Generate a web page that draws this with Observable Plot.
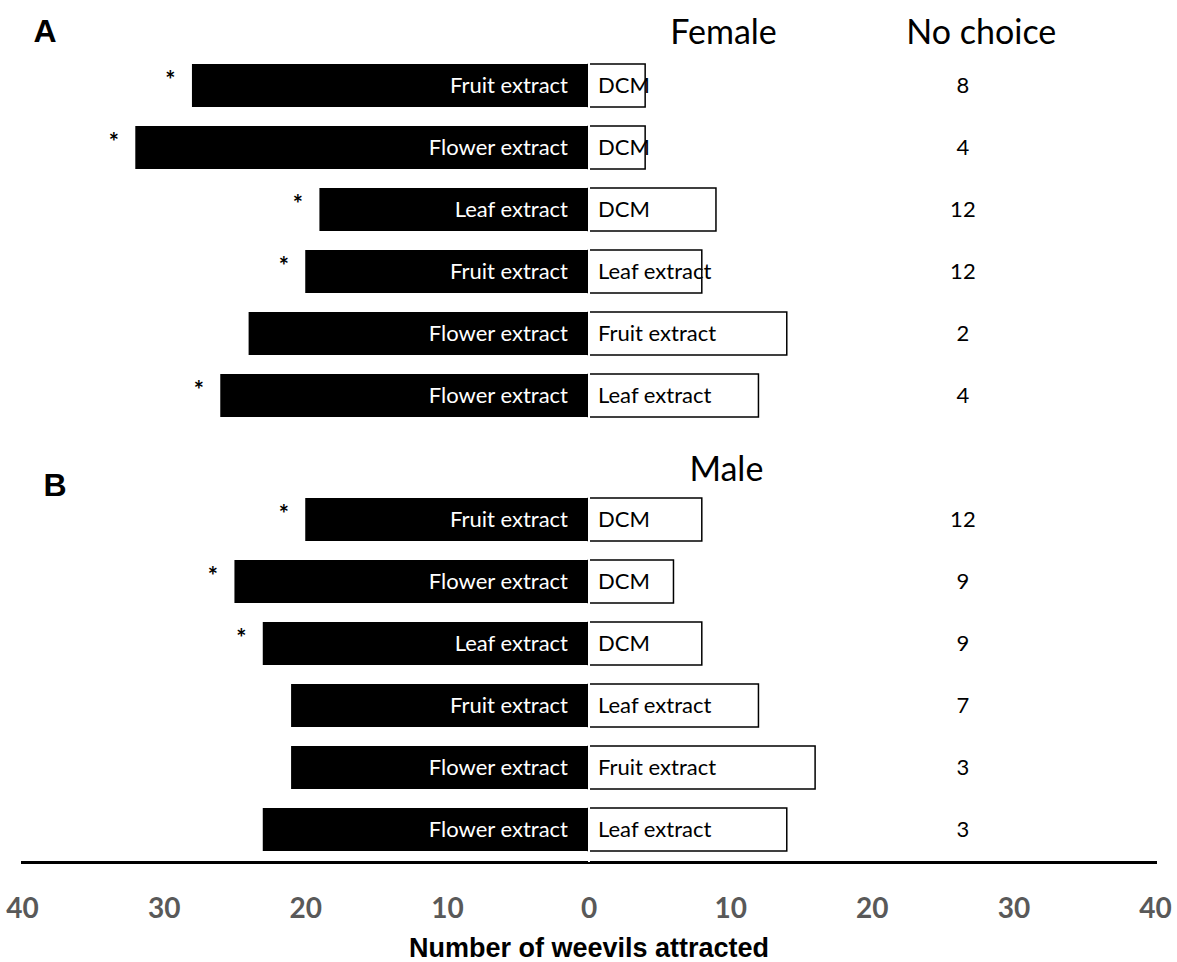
<!DOCTYPE html>
<html><head><meta charset="utf-8">
<script src="https://cdn.jsdelivr.net/npm/d3@7"></script>
<script src="https://cdn.jsdelivr.net/npm/@observablehq/plot@0.6"></script>
<style>body{margin:0;background:#fff}</style>
</head><body><div id="chart"></div>
<script>
// Data
const sexes = ["Female","Female","Female","Female","Female","Female","Male","Male","Male","Male","Male","Male"];
const treatments = ["Fruit extract","Flower extract","Leaf extract","Fruit extract","Flower extract","Flower extract",
                    "Fruit extract","Flower extract","Leaf extract","Fruit extract","Flower extract","Flower extract"];
const controls = ["DCM","DCM","DCM","Leaf extract","Fruit extract","Leaf extract",
                  "DCM","DCM","DCM","Leaf extract","Fruit extract","Leaf extract"];
const treatmentCounts = [28,32,19,20,24,26, 20,25,23,21,21,23];
const controlCounts   = [4,4,9,8,14,12, 8,6,8,12,16,14];
const noChoice        = [8,4,12,12,2,4, 12,9,9,7,3,3];
const significant     = [true,true,true,true,false,true, true,true,true,false,false,false];
const xTicks = [-40,-30,-20,-10,0,10,20,30,40];
const panelLetters = ["A","B"];
const sexTitles = ["Female","Male"];
const columnTitle = "No choice";
const xLabel = "Number of weevils attracted";

const data = treatments.map((t,i)=>({
  id: sexes[i] + i, sex: sexes[i], treatment: t, control: controls[i],
  tc: treatmentCounts[i], cc: controlCounts[i], nc: noChoice[i], sig: significant[i]
}));
const yDomain = [...data.filter(d=>d.sex==="Female").map(d=>d.id), "gap", ...data.filter(d=>d.sex==="Male").map(d=>d.id)];
const firstId = yDomain[0];

const font = "Lato, 'Open Sans', sans-serif";
const arial = "'Liberation Sans', Arial, sans-serif";

const chart = Plot.plot({
  width: 1177, height: 962,
  marginLeft: 22, marginRight: 22, marginTop: 53, marginBottom: 100,
  style: {fontFamily: font, background: "white", color: "black"},
  x: {domain: [-40, 40]},
  y: {type: "band", domain: yDomain, paddingInner: 0.3, paddingOuter: 0.13, axis: null},
  marks: [
    Plot.barX(data, {x1: d => -d.tc, x2: d => 0, y: "id", fill: "black"}),
    Plot.barX(data, {x1: d => 0, x2: d => d.cc, y: "id", fill: "white", stroke: "black", strokeWidth: 1.5}),
    Plot.frame({anchor: "bottom", strokeWidth: 3}),
    Plot.ruleX([0], {stroke: "white", strokeWidth: 2}),
    Plot.text(data, {x: d => 0, y: "id", text: "treatment", textAnchor: "end", dx: -21, fill: "white", fontSize: 22}),
    Plot.text(data, {x: d => 0, y: "id", text: "control", textAnchor: "start", dx: 9, fill: "black", fontSize: 22}),
    Plot.text(data.filter(d => d.sig), {x: d => -d.tc, y: "id", text: d => "*", dx: -22, dy: -5, fontSize: 24, fontWeight: "bold"}),
    Plot.text(data, {x: d => 26.4, y: "id", text: "nc", fontSize: 22}),
    Plot.text([sexTitles[0]], {x: d => 9.5, y: d => firstId, text: d => d, dy: -53, fontSize: 34}),
    Plot.text([columnTitle], {x: d => 27.7, y: d => firstId, text: d => d, dy: -53, fontSize: 34}),
    Plot.text([sexTitles[1]], {x: d => 9.7, y: d => "gap", text: d => d, dy: 12, fontSize: 34}),
    Plot.text([panelLetters[0]], {x: d => -38.4, y: d => firstId, text: d => d, dy: -54, fontSize: 32, fontWeight: "bold", fontFamily: arial}),
    Plot.text([panelLetters[1]], {x: d => -37.7, y: d => "gap", text: d => d, dy: 28, fontSize: 32, fontWeight: "bold", fontFamily: arial}),
    Plot.axisX({ticks: xTicks, tickFormat: d => Math.abs(d), tickSize: 0, tickPadding: 36, fontSize: 28, fontWeight: "bold", fill: "#595959", label: null}),
    Plot.text([xLabel], {frameAnchor: "bottom", x: d => 0, text: d => d, dy: 94, fontSize: 27, fontWeight: "bold", fontFamily: arial})
  ]
});
document.getElementById("chart").append(chart);
</script>
</body></html>
